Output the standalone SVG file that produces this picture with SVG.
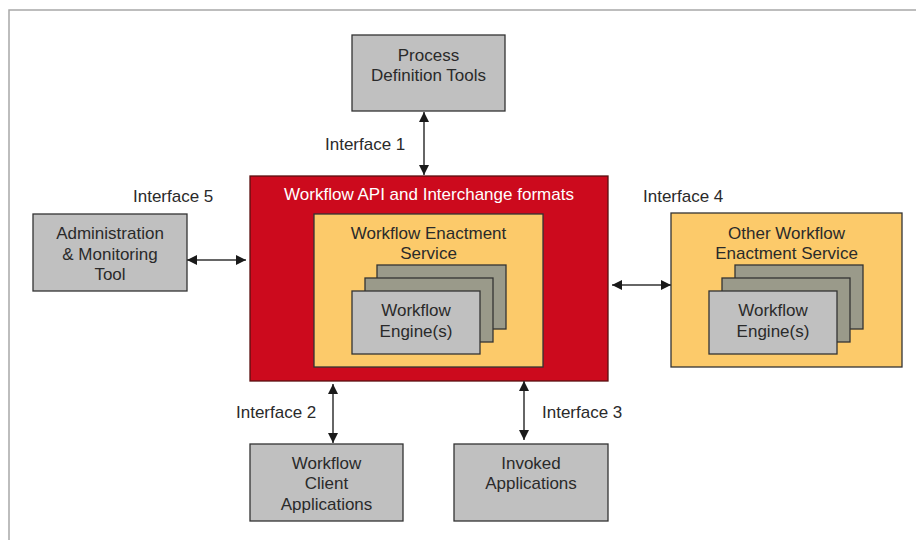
<svg xmlns="http://www.w3.org/2000/svg" width="916" height="540" viewBox="0 0 916 540">
<defs>
<style>
text{font-family:"Liberation Sans",Arial,sans-serif;font-size:17px;fill:#2a2a2a;text-anchor:middle}
.lbl{text-anchor:start}
.gray{fill:#c0c0c0;stroke:#333;stroke-width:1.3}
.back{fill:#9a9a8a;stroke:#333;stroke-width:1.3}
.yel{fill:#fcca6a;stroke:#333;stroke-width:1.3}
.red{fill:#cc0a1d;stroke:#5a1010;stroke-width:1.3}
.con{stroke:#333;stroke-width:1.5;fill:none;marker-start:url(#ah);marker-end:url(#ah)}
</style>
<marker id="ah" viewBox="0 0 10 10" refX="10" refY="5" markerWidth="10" markerHeight="10" markerUnits="userSpaceOnUse" orient="auto-start-reverse">
<path d="M0,0 L10,5 L0,10 Z" fill="#1a1a1a"/>
</marker>
</defs>
<rect width="916" height="540" fill="#fff"/>
<path d="M9,540 V10 H916" fill="none" stroke="#a8a8a8" stroke-width="1.5"/>

<g id="process-definition-tools">
<rect class="gray" x="352" y="35" width="153" height="76"/>
<text x="428.5" y="61">Process</text>
<text x="428.5" y="81">Definition Tools</text>
</g>

<g id="workflow-api">
<rect class="red" x="250" y="176" width="358" height="205"/>
<text x="429" y="200" style="fill:#fff">Workflow API and Interchange formats</text>
</g>

<g id="workflow-enactment-service">
<rect class="yel" x="314" y="214" width="229" height="153"/>
<text x="428.5" y="239">Workflow Enactment</text>
<text x="428.5" y="259">Service</text>
<rect class="back" x="377" y="265" width="129" height="64"/>
<rect class="back" x="365" y="278" width="128" height="64"/>
<rect class="gray" x="352" y="291" width="128" height="63"/>
<text x="416" y="316">Workflow</text>
<text x="416" y="337">Engine(s)</text>
</g>

<g id="other-workflow-enactment-service">
<rect class="yel" x="671" y="213" width="231" height="154"/>
<text x="786.5" y="239">Other Workflow</text>
<text x="786.5" y="259">Enactment Service</text>
<rect class="back" x="735" y="265" width="128" height="64"/>
<rect class="back" x="722" y="278" width="128" height="64"/>
<rect class="gray" x="709" y="291" width="128" height="63"/>
<text x="773" y="316">Workflow</text>
<text x="773" y="337">Engine(s)</text>
</g>

<g id="admin-monitoring-tool">
<rect class="gray" x="33" y="214" width="154" height="77"/>
<text x="110" y="239">Administration</text>
<text x="110" y="260">&amp; Monitoring</text>
<text x="110" y="280">Tool</text>
</g>

<g id="workflow-client-applications">
<rect class="gray" x="250" y="444" width="153" height="77"/>
<text x="326.5" y="469">Workflow</text>
<text x="326.5" y="489">Client</text>
<text x="326.5" y="510">Applications</text>
</g>

<g id="invoked-applications">
<rect class="gray" x="454" y="444" width="154" height="77"/>
<text x="531" y="469">Invoked</text>
<text x="531" y="489">Applications</text>
</g>

<g id="connectors">
<line class="con" x1="424" y1="112" x2="424" y2="175"/>
<line class="con" x1="187" y1="260" x2="246" y2="260"/>
<line class="con" x1="612" y1="285" x2="671" y2="285"/>
<line class="con" x1="333" y1="384" x2="333" y2="443"/>
<line class="con" x1="524" y1="381" x2="524" y2="440"/>
<text class="lbl" x="325" y="150">Interface 1</text>
<text class="lbl" x="236" y="418">Interface 2</text>
<text class="lbl" x="542" y="418">Interface 3</text>
<text class="lbl" x="643" y="202">Interface 4</text>
<text class="lbl" x="133" y="202">Interface 5</text>
</g>
</svg>
